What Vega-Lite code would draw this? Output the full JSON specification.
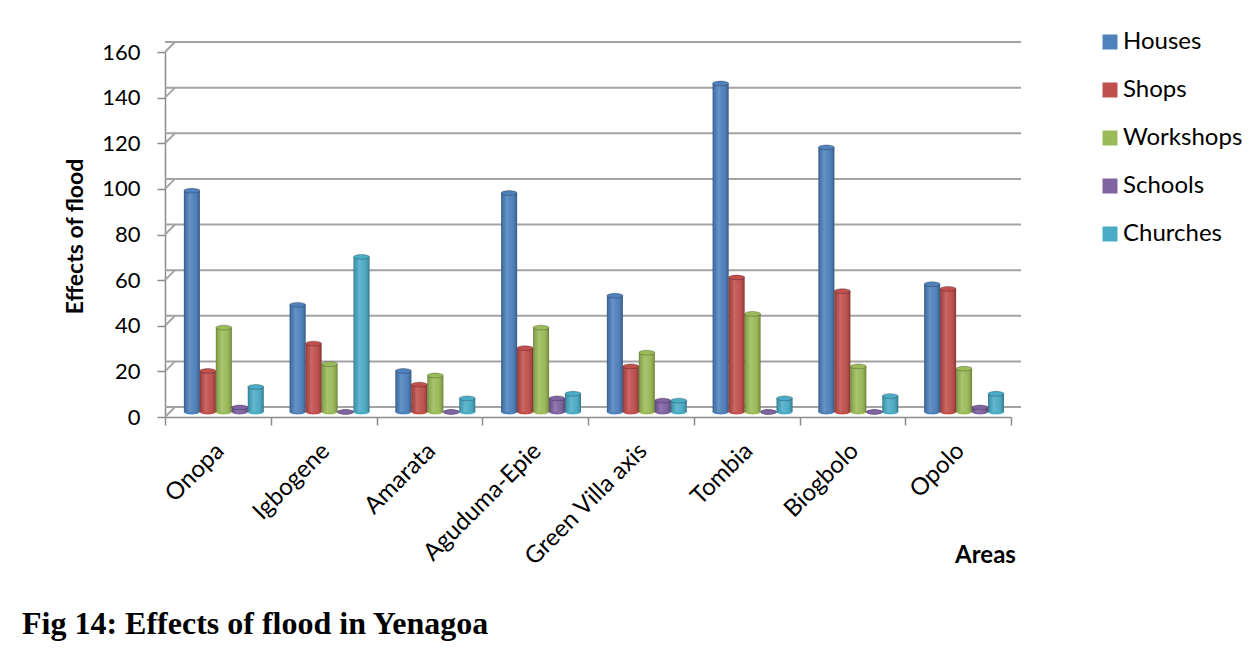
{
  "$schema": "https://vega.github.io/schema/vega-lite/v6.json",
  "width": 846,
  "height": 365,
  "autosize": {"type": "none"},
  "padding": {"left": 165, "top": 52, "right": 242, "bottom": 234},
  "background": "white",
  "config": {"view": {"stroke": null}, "font": "Lato"},
  "title": {
    "text": "Fig 14: Effects of flood in Yenagoa",
    "orient": "bottom",
    "anchor": "start",
    "frame": "group",
    "font": "Liberation Serif",
    "fontSize": 32,
    "fontWeight": "bold",
    "color": "black",
    "dx": -143,
    "offset": 39
  },
  "datasets": {
    "counts": [
      {"area": "Onopa", "type": "Houses", "value": 97},
      {"area": "Onopa", "type": "Shops", "value": 18},
      {"area": "Onopa", "type": "Workshops", "value": 37},
      {"area": "Onopa", "type": "Schools", "value": 2},
      {"area": "Onopa", "type": "Churches", "value": 11},
      {"area": "Igbogene", "type": "Houses", "value": 47},
      {"area": "Igbogene", "type": "Shops", "value": 30},
      {"area": "Igbogene", "type": "Workshops", "value": 21},
      {"area": "Igbogene", "type": "Schools", "value": 0},
      {"area": "Igbogene", "type": "Churches", "value": 68},
      {"area": "Amarata", "type": "Houses", "value": 18},
      {"area": "Amarata", "type": "Shops", "value": 12},
      {"area": "Amarata", "type": "Workshops", "value": 16},
      {"area": "Amarata", "type": "Schools", "value": 0},
      {"area": "Amarata", "type": "Churches", "value": 6},
      {"area": "Aguduma-Epie", "type": "Houses", "value": 96},
      {"area": "Aguduma-Epie", "type": "Shops", "value": 28},
      {"area": "Aguduma-Epie", "type": "Workshops", "value": 37},
      {"area": "Aguduma-Epie", "type": "Schools", "value": 6},
      {"area": "Aguduma-Epie", "type": "Churches", "value": 8},
      {"area": "Green Villa axis", "type": "Houses", "value": 51},
      {"area": "Green Villa axis", "type": "Shops", "value": 20},
      {"area": "Green Villa axis", "type": "Workshops", "value": 26},
      {"area": "Green Villa axis", "type": "Schools", "value": 5},
      {"area": "Green Villa axis", "type": "Churches", "value": 5},
      {"area": "Tombia", "type": "Houses", "value": 144},
      {"area": "Tombia", "type": "Shops", "value": 59},
      {"area": "Tombia", "type": "Workshops", "value": 43},
      {"area": "Tombia", "type": "Schools", "value": 0},
      {"area": "Tombia", "type": "Churches", "value": 6},
      {"area": "Biogbolo", "type": "Houses", "value": 116},
      {"area": "Biogbolo", "type": "Shops", "value": 53},
      {"area": "Biogbolo", "type": "Workshops", "value": 20},
      {"area": "Biogbolo", "type": "Schools", "value": 0},
      {"area": "Biogbolo", "type": "Churches", "value": 7},
      {"area": "Opolo", "type": "Houses", "value": 56},
      {"area": "Opolo", "type": "Shops", "value": 54},
      {"area": "Opolo", "type": "Workshops", "value": 19},
      {"area": "Opolo", "type": "Schools", "value": 2},
      {"area": "Opolo", "type": "Churches", "value": 8}
    ],
    "gridlines": [
      {"value": 0}, {"value": 20}, {"value": 40}, {"value": 60}, {"value": 80},
      {"value": 100}, {"value": 120}, {"value": 140}, {"value": 160}
    ]
  },
  "layer": [
    {
      "data": {"name": "gridlines"},
      "mark": {"type": "rule", "color": "#a3a3a3", "strokeWidth": 2, "xOffset": 10, "x2Offset": 10, "yOffset": -10},
      "encoding": {
        "y": {"field": "value", "type": "quantitative", "scale": {"domain": [0, 160], "nice": false}}
      }
    },
    {
      "data": {"name": "gridlines"},
      "mark": {"type": "rule", "color": "#a3a3a3", "strokeWidth": 2, "x2Offset": 10, "y2Offset": -10},
      "encoding": {
        "x": {"datum": "Onopa", "type": "nominal", "bandPosition": 0},
        "x2": {"datum": "Onopa", "bandPosition": 0},
        "y": {"field": "value", "type": "quantitative"},
        "y2": {"field": "value"}
      }
    },
    {
      "data": {"name": "counts"},
      "mark": {"type": "point", "filled": true, "opacity": 1, "size": 256, "yOffset": -5,
               "shape": "M -1 0 A 1 0.3 0 1 0 1 0 A 1 0.3 0 1 0 -1 0 Z"},
      "encoding": {
        "x": {"field": "area", "type": "nominal"},
        "xOffset": {"field": "type", "type": "nominal"},
        "y": {"datum": 0, "type": "quantitative"},
        "color": {"field": "type", "type": "nominal"}
      }
    },
    {
      "data": {"name": "counts"},
      "mark": {"type": "bar", "yOffset": -5, "y2Offset": -5},
      "encoding": {
        "x": {
          "field": "area",
          "type": "nominal",
          "sort": null,
          "scale": {
            "domain": ["Onopa", "Igbogene", "Amarata", "Aguduma-Epie", "Green Villa axis", "Tombia", "Biogbolo", "Opolo"],
            "paddingInner": 0,
            "paddingOuter": 0
          },
          "axis": {
            "title": "Areas",
            "titleFont": "Lato",
            "titleFontWeight": "bold",
            "titleFontSize": 24,
            "titleColor": "black",
            "titleX": 820,
            "titleY": 138,
            "titleAlign": "center",
            "titleBaseline": "middle",
            "labelAngle": -45,
            "labelFontSize": 24,
            "labelColor": "black",
            "labelPadding": 22,
            "labelOffset": 2,
            "tickBand": "extent",
            "tickSize": 8,
            "tickColor": "#8c8c8c",
            "tickWidth": 1.5,
            "domainColor": "#8c8c8c",
            "domainWidth": 1.5,
            "grid": false
          }
        },
        "xOffset": {
          "field": "type",
          "type": "nominal",
          "sort": null,
          "scale": {
            "domain": ["Houses", "Shops", "Workshops", "Schools", "Churches"],
            "paddingInner": 0,
            "paddingOuter": 0.81,
            "align": 0.73
          }
        },
        "y": {
          "field": "value",
          "type": "quantitative",
          "scale": {"domain": [0, 160], "nice": false},
          "axis": {
            "title": "Effects of flood",
            "titleFont": "Lato",
            "titleFontWeight": "bold",
            "titleFontSize": 23,
            "titleColor": "black",
            "titleX": -90,
            "titleY": 184,
            "titleAlign": "center",
            "titleBaseline": "middle",
            "values": [0, 20, 40, 60, 80, 100, 120, 140, 160],
            "grid": false,
            "tickSize": 8,
            "tickColor": "#8c8c8c",
            "tickWidth": 1.5,
            "domainColor": "#8c8c8c",
            "domainWidth": 1.5,
            "labelFontSize": 22,
            "labelColor": "black",
            "labelPadding": 17
          }
        },
        "color": {
          "field": "type",
          "type": "nominal",
          "sort": null,
          "scale": {
            "domain": ["Houses", "Shops", "Workshops", "Schools", "Churches"],
            "range": ["#4f81bd", "#c0504d", "#9bbb59", "#8064a2", "#4bacc6"]
          },
          "legend": {
            "title": null,
            "orient": "none",
            "legendX": 933,
            "legendY": -22,
            "symbolType": "square",
            "symbolSize": 225,
            "symbolStrokeWidth": 0,
            "labelFont": "Lato",
            "labelFontSize": 24,
            "labelColor": "black",
            "labelOffset": 1,
            "rowPadding": 24
          }
        }
      }
    },
    {
      "data": {"name": "counts"},
      "mark": {
        "type": "bar",
        "yOffset": -5,
        "y2Offset": -5,
        "color": {
          "gradient": "linear",
          "x1": 0, "x2": 1, "y1": 0, "y2": 0,
          "stops": [
            {"offset": 0, "color": "rgba(0,0,0,0.30)"},
            {"offset": 0.12, "color": "rgba(0,0,0,0.08)"},
            {"offset": 0.35, "color": "rgba(255,255,255,0.14)"},
            {"offset": 0.6, "color": "rgba(255,255,255,0.04)"},
            {"offset": 0.88, "color": "rgba(0,0,0,0.12)"},
            {"offset": 1, "color": "rgba(0,0,0,0.32)"}
          ]
        }
      },
      "encoding": {
        "x": {"field": "area", "type": "nominal"},
        "xOffset": {"field": "type", "type": "nominal"},
        "y": {"field": "value", "type": "quantitative"}
      }
    },
    {
      "data": {"name": "counts"},
      "mark": {"type": "point", "filled": true, "opacity": 1, "size": 256, "yOffset": -5,
               "stroke": "black", "strokeOpacity": 0.3, "strokeWidth": 0.8,
               "shape": "M -1 0 A 1 0.3 0 1 0 1 0 A 1 0.3 0 1 0 -1 0 Z"},
      "encoding": {
        "x": {"field": "area", "type": "nominal"},
        "xOffset": {"field": "type", "type": "nominal"},
        "y": {"field": "value", "type": "quantitative"},
        "color": {"field": "type", "type": "nominal"}
      }
    }
  ]
}
